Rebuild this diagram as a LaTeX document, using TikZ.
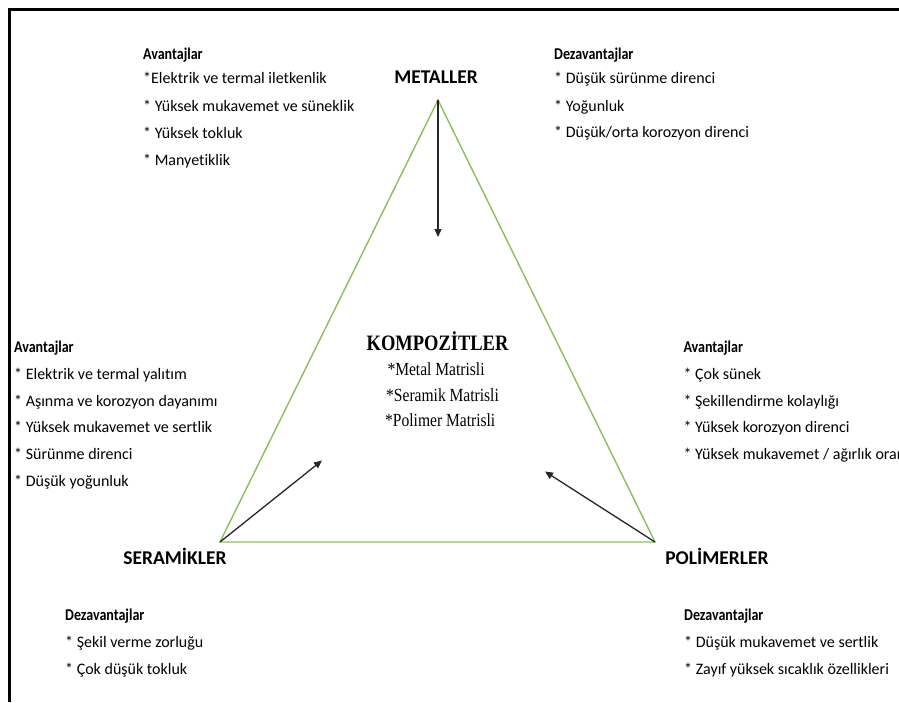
\documentclass[tikz,border=0pt]{standalone}
\usepackage{fontspec}
\setmainfont[Ligatures=NoCommon]{Carlito}
\newfontfamily\headfont[FakeStretch=0.85,Ligatures=NoCommon]{Carlito}
\newfontfamily\condserif[FakeStretch=0.84]{Liberation Serif}
\usetikzlibrary{arrows.meta}
\definecolor{trigreen}{RGB}{140,190,90}
\begin{document}
\begin{tikzpicture}[x=1pt,y=-1pt,
  body/.style={anchor=base west, inner sep=0pt, font=\fontsize{16}{16}\selectfont},
  head/.style={anchor=base west, inner sep=0pt, font=\headfont\bfseries\fontsize{16.5}{16.5}\selectfont},
  title/.style={anchor=base, inner sep=0pt, font=\bfseries\fontsize{19.5}{19.5}\selectfont},
  ctitle/.style={anchor=base, inner sep=0pt, font=\condserif\bfseries\fontsize{22}{22}\selectfont},
  cline/.style={anchor=base west, inner sep=0pt, font=\condserif\fontsize{18.5}{18.5}\selectfont},
  arr/.style={-{Triangle[length=8pt,width=7pt]}, line width=1.3pt, black!85},
  tri/.style={draw=trigreen, line width=1.4pt, line join=miter}]
\useasboundingbox (0,0) rectangle (899,702);
% frame
\draw[line width=3pt] (9.5,702) -- (9.5,9.5) -- (899,9.5);
% triangle
\coordinate (apex) at (438,100);
\coordinate (bl) at (220,542);
\coordinate (br) at (655,542);
\draw[tri] (apex) -- (bl) -- (br) -- cycle;
% arrows
\coordinate (mtip) at (438,237);
\coordinate (stip) at (322,460.5);
\coordinate (ptip) at (545,471.5);
\draw[arr] (apex) -- (mtip);
\draw[arr] (bl) -- (stip);
\draw[arr] (br) -- (ptip);
% titles
\node[title] (metal) at (436,83.3) {METALLER};
\node[title] (seram) at (175,564.3) {SERAMİKLER};
\node[title] (polim) at (717,564.3) {POLİMERLER};
% centre
\node[ctitle] (komp) at (437.5,350.7) {KOMPOZİTLER};
\node[cline] (c1) at (387.3,375) {*Metal Matrisli};
\node[cline] (c2) at (386,401.7) {*Seramik Matrisli};
\node[cline] (c3) at (385,426) {*Polimer Matrisli};
% metals advantages
\node[head] (ma) at (143,59) {Avantajlar};
\node[body] (ma1) at (143,83.3) {*Elektrik ve termal iletkenlik};
\node[body] (ma2) at (143,111.3) {* Yüksek mukavemet ve süneklik};
\node[body] (ma3) at (143,138.3) {* Yüksek tokluk};
\node[body] (ma4) at (143,165) {* Manyetiklik};
% metals disadvantages
\node[head] (md) at (554,59.3) {Dezavantajlar};
\node[body] (md1) at (554,83.3) {* Düşük sürünme direnci};
\node[body] (md2) at (554,111) {* Yoğunluk};
\node[body] (md3) at (554,137.7) {* Düşük/orta korozyon direnci};
% ceramics advantages
\node[head] (sa) at (14,352.3) {Avantajlar};
\node[body] (sa1) at (14,379.3) {* Elektrik ve termal yalıtım};
\node[body] (sa2) at (14,406) {* Aşınma ve korozyon dayanımı};
\node[body] (sa3) at (14,432.7) {* Yüksek mukavemet ve sertlik};
\node[body] (sa4) at (14,459.3) {* Sürünme direnci};
\node[body] (sa5) at (14,486) {* Düşük yoğunluk};
% polymers advantages
\node[head] (pa) at (683.3,352.3) {Avantajlar};
\node[body] (pa1) at (683.3,379.3) {* Çok sünek};
\node[body] (pa2) at (683.3,406) {* Şekillendirme kolaylığı};
\node[body] (pa3) at (683.3,432.7) {* Yüksek korozyon direnci};
\node[body] (pa4) at (683.3,459.3) {* Yüksek mukavemet / ağırlık oranı};
% ceramics disadvantages
\node[head] (sd) at (65,620) {Dezavantajlar};
\node[body] (sd1) at (65,647.7) {* Şekil verme zorluğu};
\node[body] (sd2) at (65,674) {* Çok düşük tokluk};
% polymers disadvantages
\node[head] (pd) at (684,620) {Dezavantajlar};
\node[body] (pd1) at (684,647.7) {* Düşük mukavemet ve sertlik};
\node[body] (pd2) at (684,674) {* Zayıf yüksek sıcaklık özellikleri};
\end{tikzpicture}
\end{document}
